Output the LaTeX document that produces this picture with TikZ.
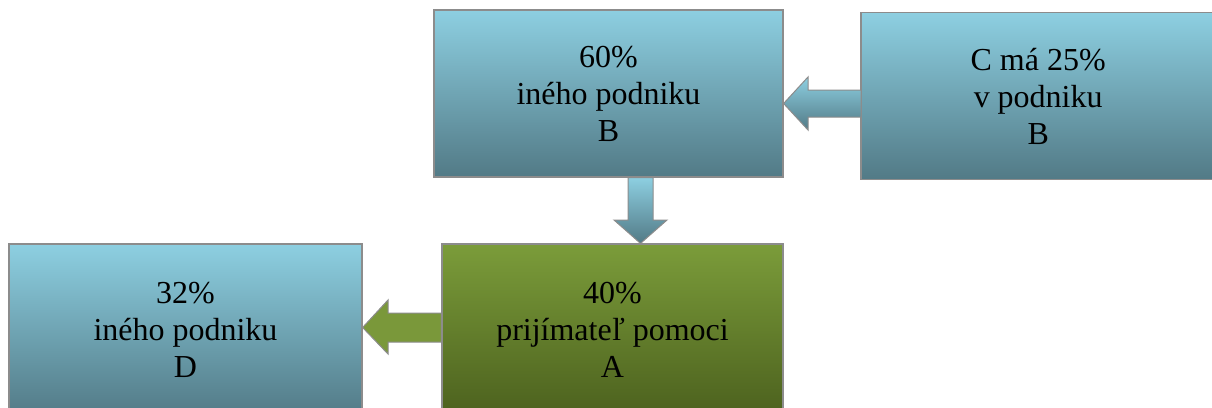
\documentclass[tikz,border=0pt]{standalone}
\usepackage{fontspec}
\setmainfont{Liberation Serif}
\usetikzlibrary{calc}
\definecolor{bluetop}{RGB}{141,207,225}
\definecolor{bluebot}{RGB}{82,122,134}
\definecolor{greentop}{RGB}{123,156,58}
\definecolor{greenbot}{RGB}{76,97,30}
\definecolor{greenarrow}{RGB}{122,152,58}
\definecolor{edgegray}{RGB}{140,140,140}
\begin{document}
\begin{tikzpicture}[x=1pt,y=-1pt,
  boxfill/.style={top color=bluetop, bottom color=bluebot,
    align=center, inner sep=0pt, font=\fontsize{32}{37}\selectfont},
  box/.style={boxfill, draw=edgegray, line width=1.2pt},
  edge/.style={draw=edgegray, line width=1.2pt},
  greenbox/.style={box, top color=greentop, bottom color=greenbot},
  bluearrow/.style={draw=edgegray, line width=1pt, top color=bluetop, bottom color=bluebot},
  greenarrowstyle/.style={draw=edgegray, line width=1pt, fill=greenarrow}]
\useasboundingbox (0,0) rectangle (1212,407);
\clip (0,0) rectangle (1212,407);
\node[box, minimum width=349pt, minimum height=167pt] (B) at (608.5,93.5) {60\%\\iného podniku\\B};
\node[boxfill, minimum width=370pt, minimum height=166pt, anchor=west] (C) at (861,96) {\hspace*{-16pt}C má 25\%\\\hspace*{-16pt}v podniku\\\hspace*{-16pt}B};
\path[edge] (C.north east) -- (C.north west) -- (C.south west) -- (C.south east);
\node[box, minimum width=353pt, minimum height=172pt] (D) at (185.5,330) {32\%\\iného podniku\\D};
\node[greenbox, minimum width=341pt, minimum height=172pt] (A) at (612.5,330) {40\%\\prijímateľ pomoci\\A};
\path[bluearrow] (B.east |- 0,103.5) -- (808,77) -- (808,90) -- (C.west |- 0,90)
  -- (C.west |- 0,117) -- (808,117) -- (808,130) -- cycle;
\path[bluearrow] (A.north -| 640.5,0) -- (667,220) -- (653,220) -- (B.south -| 653,0)
  -- (B.south -| 628,0) -- (628,220) -- (614,220) -- cycle;
\path[greenarrowstyle] (D.east |- 0,327.5) -- (388,300) -- (388,313) -- (A.west |- 0,313)
  -- (A.west |- 0,342) -- (388,342) -- (388,354) -- cycle;
\end{tikzpicture}
\end{document}
